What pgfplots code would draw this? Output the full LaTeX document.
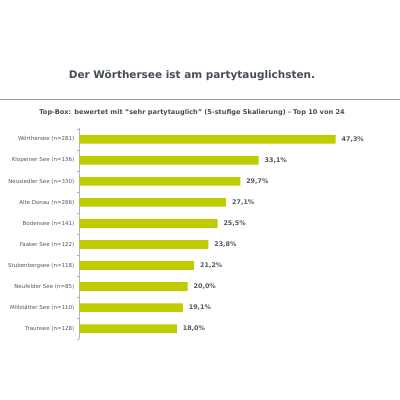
\documentclass[border=0pt]{standalone}
\usepackage{pgfplots}
\pgfplotsset{compat=1.18}
\usepackage{fontspec}
\setmainfont{DejaVu Sans}
\definecolor{barcol}{RGB}{190,204,0}
\definecolor{titcol}{RGB}{68,76,88}
\definecolor{labcol}{RGB}{80,86,96}
\begin{document}
\begin{tikzpicture}[x=1bp,y=1bp]
\path (0,0) rectangle (400,400);
\node[font=\fontsize{10.5bp}{12bp}\selectfont\bfseries, text=titcol] at (192,400-76) {Der Wörthersee ist am partytauglichsten.};
\draw[gray!80, line width=1bp] (0,400-100) -- (400,400-100);
\node[font=\fontsize{6.6bp}{7bp}\selectfont\bfseries, text=titcol] at (192,400-112.7) {Top-Box: bewertet mit "sehr partytauglich" (5-stufige Skalierung) - Top 10 von 24};
\begin{axis}[
  at={(79bp,60bp)}, anchor=south west,
  scale only axis, width=271.7bp, height=212bp,
  xbar, bar width=8.7bp,
  xmin=0, xmax=50, ymin=-0.55, ymax=9.5,
  y dir=reverse,
  axis x line=none,
  axis y line*=left,
  y axis line style={gray!60, line width=0.5bp},
  ytick={0,...,9},
  yticklabels={Wörthersee (n=281),Klopeiner See (n=136),Neusiedler See (n=330),Alte Donau (n=266),Bodensee (n=141),Faaker See (n=122),Stubenbergsee (n=118),Neufelder See (n=85),Millstätter See (n=110),Traunsee (n=128)},
  yticklabel style={font=\fontsize{5.5bp}{6bp}\selectfont, text=labcol, xshift=-1.5bp},
  major tick length=0pt,
  minor ytick={-0.5,0.5,...,9.5},
  minor tick length=2.5bp,
  tick align=outside,
  minor tick style={gray!60},
  nodes near coords,
  nodes near coords style={font=\fontsize{6.4bp}{7bp}\selectfont\bfseries, text=labcol, anchor=west, xshift=2.5bp},
  nodes near coords={\pgfmathprintnumber[fixed,fixed zerofill,precision=1,use comma,assume math mode=true]{\pgfplotspointmeta}\%},
]
\addplot[fill=barcol, draw=none] coordinates {
(47.3,0) (33.1,1) (29.7,2) (27.1,3) (25.5,4) (23.8,5) (21.2,6) (20.0,7) (19.1,8) (18.0,9)};
\end{axis}
\end{tikzpicture}
\end{document}
